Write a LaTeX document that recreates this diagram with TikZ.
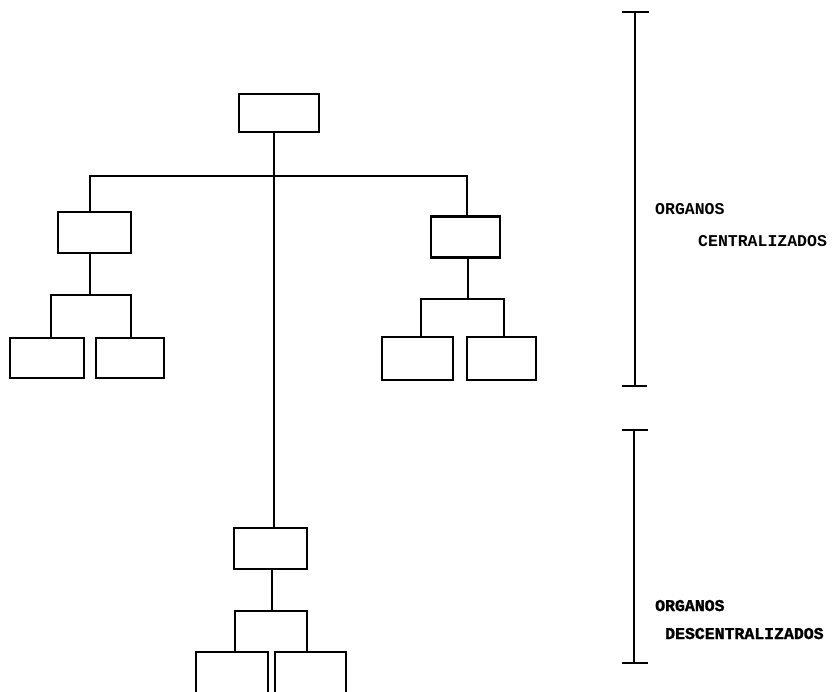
\documentclass[tikz,border=0pt]{standalone}
\usepackage{fontspec}
% typewriter faces for the side labels
\newfontfamily\typelight{Liberation Mono}
\newfontfamily\typeheavy[BoldFeatures={FakeBold=1.6}]{Liberation Mono}
\begin{document}
\begin{tikzpicture}[x=1pt,y=-1pt,
  unit/.style={draw=black,line width=2.7pt,rectangle,inner sep=0pt,fill=none},
  link/.style={draw=black,line width=2.3pt},
  brace/.style={draw=black,line width=2.8pt},
  lbl/.style={anchor=base west,inner sep=0pt,font=\typelight\bfseries\fontsize{16.5}{18}\selectfont},
  lblb/.style={anchor=base west,inner sep=0pt,font=\typeheavy\bfseries\fontsize{16.5}{18}\selectfont}]
\useasboundingbox (0,0) rectangle (832,691);
\fill[white] (0,0) rectangle (832,691);
\clip (0,0) rectangle (832,691);

% central head
\node[unit,minimum width=80pt,minimum height=38pt] (top) at (279,113) {};
% second level
\node[unit,minimum width=73pt,minimum height=41pt] (L) at (94.5,232.5) {};
\node[unit,minimum width=69pt,minimum height=41pt] (R) at (465.5,237) {};
% third level, left
\node[unit,minimum width=74pt,minimum height=40pt] (LL) at (47,358) {};
\node[unit,minimum width=68pt,minimum height=40pt] (LR) at (130,358) {};
% third level, right
\node[unit,minimum width=71pt,minimum height=43pt] (RL) at (417.5,358.5) {};
\node[unit,minimum width=69pt,minimum height=43pt] (RR) at (501.5,358.5) {};
% decentralized branch
\node[unit,minimum width=73pt,minimum height=41pt] (M) at (270.5,548.5) {};
\node[unit,minimum width=72pt,minimum height=46pt] (BL) at (232,675) {};
\node[unit,minimum width=71pt,minimum height=46pt] (BR) at (310.5,675) {};

% junction points
\coordinate (spine) at (274,176);
\coordinate (hl) at (90,176);
\coordinate (hr) at (467,176);
\coordinate (sl) at (90,295);
\coordinate (sll) at (51,295);
\coordinate (slr) at (131,295);
\coordinate (sr) at (468,299);
\coordinate (srl) at (421,299);
\coordinate (srr) at (504,299);
\coordinate (sb) at (272,611);
\coordinate (sbl) at (235,611);
\coordinate (sbr) at (307,611);

% connectors
\draw[link] (top.south -| spine) -- (M.north -| spine);
\draw[link] (L.north -| hl) -- (hl) -- (hr) -- (R.north -| hr);
\draw[link] (L.south -| sl) -- (sl);
\draw[link] (LL.north -| sll) -- (sll) -- (slr) -- (LR.north -| slr);
\draw[link] (R.south -| sr) -- (sr);
\draw[link] (RL.north -| srl) -- (srl) -- (srr) -- (RR.north -| srr);
\draw[link] (M.south -| sb) -- (sb);
\draw[link] (BL.north -| sbl) -- (sbl) -- (sbr) -- (BR.north -| sbr);

% range brackets
\draw[brace] (635,12) -- (635,386);
\draw[brace] (622,12) -- (649,12);
\draw[brace] (622,386) -- (647,386);
\draw[brace] (634,430) -- (634,663);
\draw[brace] (622,430) -- (648,430);
\draw[brace] (622,663) -- (648,663);

% labels
\node[lbl] (t1) at (655,214) {ORGANOS};
\node[lbl] (t2) at (698,246) {CENTRALIZADOS};
\node[lblb] (t3) at (655,611) {ORGANOS};
\node[lblb] (t4) at (665,639) {DESCENTRALIZADOS};
\end{tikzpicture}
\end{document}
